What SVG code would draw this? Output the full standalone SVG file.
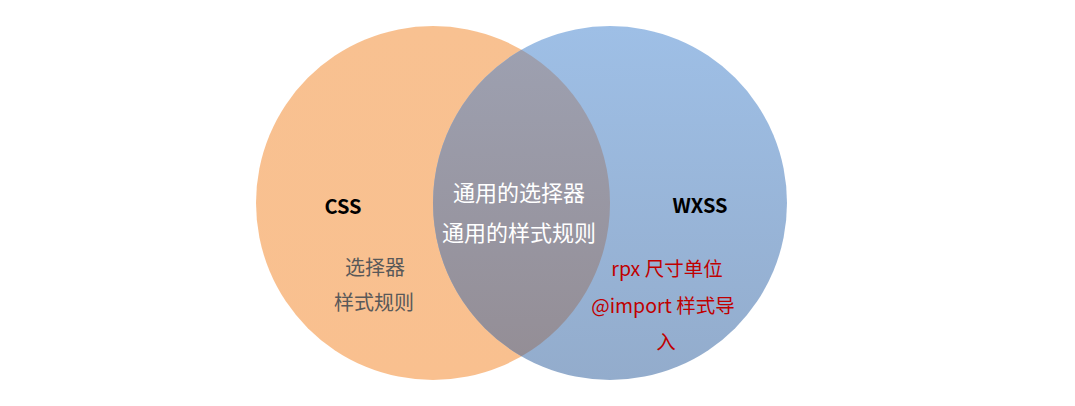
<svg xmlns="http://www.w3.org/2000/svg" width="1075" height="406" viewBox="0 0 1075 406">
<defs>
<linearGradient id="gBlue" x1="0" y1="0" x2="0" y2="1"><stop offset="0" stop-color="#9EBFE6"/><stop offset="1" stop-color="#93ACCC"/></linearGradient>
<linearGradient id="gOrange" x1="0" y1="0" x2="0" y2="1"><stop offset="0" stop-color="#F8C191"/><stop offset="1" stop-color="#F9C08F"/></linearGradient>
<linearGradient id="gGray" x1="0" y1="0" x2="0" y2="1"><stop offset="0" stop-color="#9DA0B0"/><stop offset="1" stop-color="#948E96"/></linearGradient>
<style>
text{font-family:"Microsoft YaHei","Noto Sans CJK SC","Noto Sans",sans-serif;text-anchor:middle}
.title{font-size:20px;font-weight:bold;fill:#000}
.gray{font-size:20px;fill:#595959}
.white{font-size:22px;fill:#fff}
.red{font-size:19.5px;fill:#C00000}
</style>
</defs>
<rect width="1075" height="406" fill="#fff"/>
<g id="css">
<circle cx="433" cy="203" r="177" fill="url(#gOrange)"/>
</g>
<g id="wxss">
<circle cx="610" cy="203" r="177" fill="url(#gBlue)"/>
</g>
<g id="overlap">
<path d="M521.5,49.7 A177,177 0 0 1 521.5,356.3 A177,177 0 0 1 521.5,49.7 Z" fill="url(#gGray)"/>
</g>
<g id="connectors"></g>
<g id="labels-css">
<text class="title" x="343" y="214">CSS</text>
<text class="gray" x="375" y="275">选择器</text>
<text class="gray" x="374" y="310">样式规则</text>
</g>
<g id="labels-common">
<text class="white" x="519" y="201">通用的选择器</text>
<text class="white" x="519" y="241">通用的样式规则</text>
</g>
<g id="labels-wxss">
<text class="title" x="700" y="213">WXSS</text>
<text class="red" x="667" y="276">rpx 尺寸单位</text>
<text class="red" x="663" y="313">@import 样式导</text>
<text class="red" x="666" y="349">入</text>
</g>
</svg>
